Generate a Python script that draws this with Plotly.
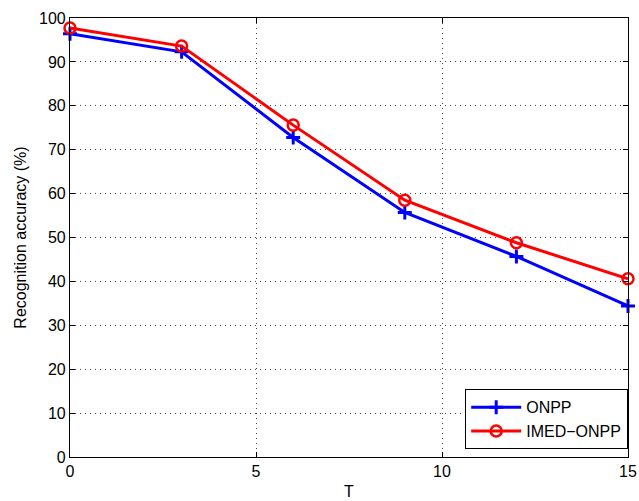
import plotly.graph_objects as go

T = [0, 3, 6, 9, 12, 15]
onpp = [96.4, 92.3, 72.8, 55.7, 45.7, 34.4]
imed_onpp = [97.7, 93.6, 75.6, 58.5, 48.8, 40.6]

FONT = "Liberation Sans, Arial, sans-serif"

fig = go.Figure()
fig.add_trace(go.Scatter(
    x=T, y=onpp, name="ONPP", mode="lines+markers", cliponaxis=False,
    line=dict(color="#0000ff", width=3),
    marker=dict(symbol="cross-thin", size=10, color="#0000ff",
                line=dict(color="#0000ff", width=3)),
))
fig.add_trace(go.Scatter(
    x=T, y=imed_onpp, name="IMED\u2212ONPP", mode="lines+markers", cliponaxis=False,
    line=dict(color="#ff0000", width=3),
    marker=dict(symbol="circle-open", size=11, color="#ff0000",
                line=dict(color="#ff0000", width=2.5)),
))

axis_common = dict(
    showline=True, linecolor="black", linewidth=1.2, mirror="ticks",
    ticks="inside", ticklen=5, tickcolor="black",
    showgrid=True, gridcolor="#444444", griddash="1px,4px", gridwidth=1,
    zeroline=False, automargin=False,
    tickfont=dict(family=FONT, size=16, color="black"),
)

fig.update_xaxes(range=[0, 15], tickvals=[0, 5, 10, 15],
                 title=dict(text="T", standoff=6,
                            font=dict(family=FONT, size=16, color="black")),
                 **axis_common)
fig.update_yaxes(range=[0, 100], tickvals=list(range(0, 101, 10)),
                 title=dict(text="Recognition accuracy (%)", standoff=8,
                            font=dict(family=FONT, size=16, color="black")),
                 **axis_common)

fig.update_layout(
    width=639, height=501,
    margin=dict(l=70, r=11, t=18, b=44),
    paper_bgcolor="white", plot_bgcolor="white",
    legend=dict(x=1.0, y=0.018, xanchor="right", yanchor="bottom",
                bordercolor="black", borderwidth=1.2, bgcolor="white",
                font=dict(family=FONT, size=16, color="black"),
                itemwidth=50, tracegroupgap=0),
    showlegend=True,
)

fig.write_html(
    "out.html",
    config={"displayModeBar": False},
    post_script="document.body.style.margin='0';document.body.style.overflow='hidden';",
)
